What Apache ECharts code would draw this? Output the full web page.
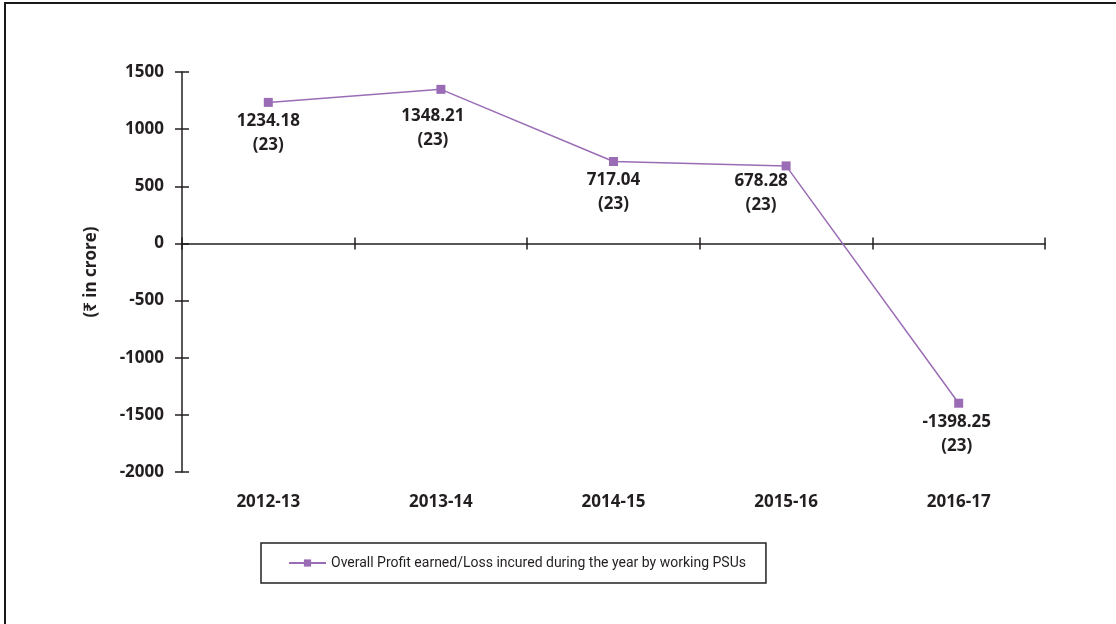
<!DOCTYPE html>
<html>
<head>
<meta charset="utf-8">
<script src="https://cdn.jsdelivr.net/npm/echarts@6/dist/echarts.min.js"></script>
<style>
  html, body { margin: 0; padding: 0; background: #fff; }
  #wrap { position: relative; width: 1116px; height: 624px; overflow: hidden; }
  #frame { position: absolute; left: 4px; top: 2px; width: 1200px; height: 700px;
           border-left: 2px solid #1a1a1a; border-top: 2px solid #1a1a1a; }
  #chart { position: absolute; left: 0; top: 0; width: 1116px; height: 624px; }
</style>
</head>
<body>
<div id="wrap">
  <div id="frame"></div>
  <div id="chart"></div>
</div>
<script>
// years on the x axis
const years = ['2012-13', '2013-14', '2014-15', '2015-16', '2016-17'];
// overall profit / loss of working PSUs (₹ in crore)
const profit = [1234.18, 1348.21, 717.04, 678.28, -1398.25];
// number of working PSUs, shown in brackets
const psuCount = [23, 23, 23, 23, 23];
const seriesName = 'Overall Profit earned/Loss incured during the year by working PSUs';

// small nudges so the value labels sit where they do in the original
const labelNudge = [[0, 0], [-8, 8], [0, 0], [-25, -3], [-2, 0]];

const ink = '#231f20';
const purple = '#9b6cb6';
const numFont = {fontFamily: "'Open Sans', 'Noto Sans', 'DejaVu Sans'", fontWeight: 'bold', fontSize: 17, color: ink};

const chart = echarts.init(document.getElementById('chart'));

chart.setOption({
  animation: false,
  grid: {left: 182, right: 71, top: 72, bottom: 152},
  legend: {
    data: [seriesName],
    left: 261,
    top: 543,
    padding: [13, 20, 13, 27],
    borderColor: '#222',
    borderWidth: 1.5,
    itemWidth: 37,
    itemHeight: 9,
    itemGap: 5,
    textStyle: {fontFamily: "'Liberation Sans Narrow', Roboto, sans-serif", fontSize: 14, color: ink}
  },
  xAxis: [
    {
      type: 'category', data: years, position: 'bottom',
      axisLine: {show: false, onZero: false},
      axisTick: {show: false},
      axisLabel: Object.assign({margin: 22}, numFont)
    },
    {
      type: 'category', data: years, position: 'top',
      axisLine: {onZero: true, lineStyle: {color: ink, width: 1.5}},
      axisTick: {show: true, length: 6, lineStyle: {color: ink, width: 1.5}},
      axisLabel: {show: false}
    },
    {
      type: 'category', data: years, position: 'bottom',
      axisLine: {show: false, onZero: true},
      axisTick: {show: true, length: 6, lineStyle: {color: ink, width: 1.5}},
      axisLabel: {show: false}
    }
  ],
  yAxis: [
    {
      type: 'value', min: -2000, max: 1500, interval: 500, position: 'left',
      axisLine: {show: true, lineStyle: {color: ink, width: 1.5}},
      axisTick: {show: true, length: 7, lineStyle: {color: ink, width: 1.5}},
      axisLabel: Object.assign({margin: 18, formatter: v => String(v)}, numFont),
      splitLine: {show: false},
      name: '(₹ in crore)',
      nameLocation: 'middle',
      nameGap: 82,
      nameTextStyle: numFont
    },
    {
      type: 'value', min: -2000, max: 1500, interval: 500, position: 'left',
      axisLine: {show: false},
      axisTick: {show: true, inside: true, length: 7, lineStyle: {color: ink, width: 1.5}},
      axisLabel: {show: false},
      splitLine: {show: false}
    }
  ],
  series: [{
    name: seriesName,
    type: 'line',
    xAxisIndex: 0,
    yAxisIndex: 0,
    data: profit.map((v, i) => ({value: v, label: {offset: labelNudge[i]}})),
    symbol: 'rect',
    symbolSize: 9,
    lineStyle: {color: purple, width: 1.5},
    itemStyle: {color: purple},
    label: {
      show: true,
      position: 'bottom',
      distance: 2,
      lineHeight: 24,
      formatter: p => p.value.toFixed(2) + '\n(' + psuCount[p.dataIndex] + ')',
      ...numFont
    }
  }]
});
</script>
</body>
</html>
